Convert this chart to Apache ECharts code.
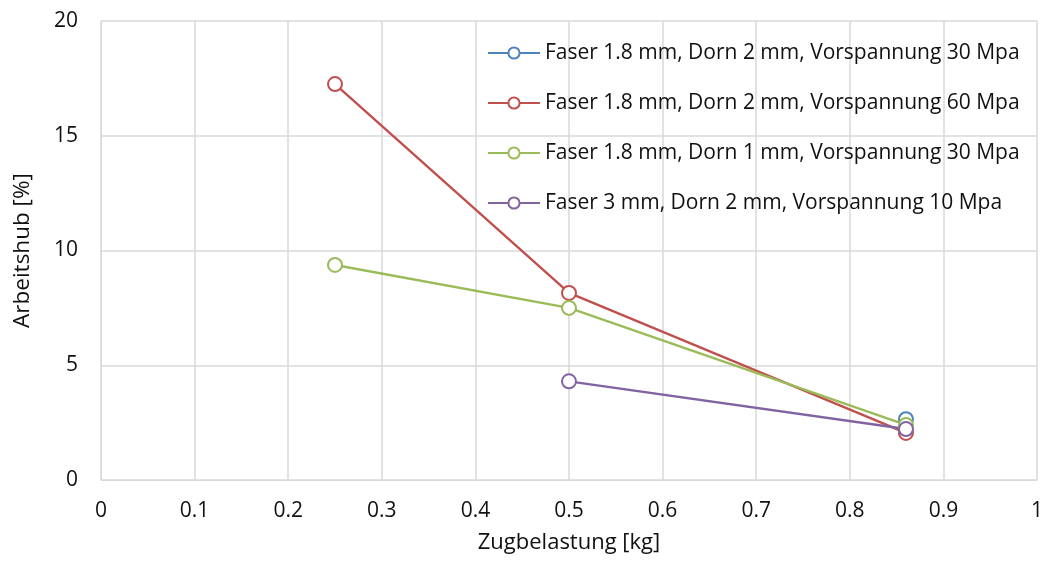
<!DOCTYPE html>
<html>
<head>
<meta charset="utf-8">
<script src="https://cdn.jsdelivr.net/npm/echarts@6/dist/echarts.min.js"></script>
<style>
  html, body { margin: 0; padding: 0; background: #fff; }
  #main { width: 1049px; height: 561px; }
</style>
</head>
<body>
<div id="main"></div>
<script>
// Daten
const seriesNames = [
  'Faser 1.8 mm, Dorn 2 mm, Vorspannung 30 Mpa',
  'Faser 1.8 mm, Dorn 2 mm, Vorspannung 60 Mpa',
  'Faser 1.8 mm, Dorn 1 mm, Vorspannung 30 Mpa',
  'Faser 3 mm, Dorn 2 mm, Vorspannung 10 Mpa'
]
const xBlue = [0.86]
const yBlue = [2.65]
const xRed = [0.25, 0.5, 0.86]
const yRed = [17.25, 8.15, 2.05]
const xGreen = [0.25, 0.5, 0.86]
const yGreen = [9.37, 7.5, 2.4]
const xPurple = [0.5, 0.86]
const yPurple = [4.3, 2.22]
const colors = ['#4F81BD', '#C0504D', '#9BBB59', '#8064A2']

function pairs(xs, ys) {
  return xs.map((x, i) => [x, ys[i]])
}

const chart = echarts.init(document.getElementById('main'))
const font = '"Open Sans", Lato, "Noto Sans", sans-serif'

const dataSets = [pairs(xBlue, yBlue), pairs(xRed, yRed), pairs(xGreen, yGreen), pairs(xPurple, yPurple)]

const option = {
  animation: false,
  textStyle: { fontFamily: font },
  grid: { left: 101, right: 12, top: 21, bottom: 81 },
  legend: {
    orient: 'vertical',
    left: 482,
    top: 37,
    itemWidth: 52,
    itemHeight: 14,
    itemGap: 28,
    textStyle: { fontSize: 21, lineHeight: 22, color: '#111', fontFamily: font },
    data: seriesNames
  },
  xAxis: {
    type: 'value',
    min: 0,
    max: 1,
    interval: 0.1,
    name: 'Zugbelastung [kg]',
    nameLocation: 'middle',
    nameGap: 52,
    nameTextStyle: { fontSize: 22, color: '#111' },
    axisLine: { show: true, lineStyle: { color: '#d9d9d9' } },
    axisTick: { show: false },
    axisLabel: { fontSize: 21, color: '#111', margin: 21 },
    splitLine: { show: true, lineStyle: { color: '#d9d9d9', width: 1.5 } }
  },
  yAxis: {
    type: 'value',
    min: 0,
    max: 20,
    interval: 5,
    name: 'Arbeitshub [%]',
    nameLocation: 'middle',
    nameGap: 67,
    nameTextStyle: { fontSize: 22.5, color: '#111' },
    axisLine: { show: true, lineStyle: { color: '#d9d9d9' } },
    axisTick: { show: false },
    axisLabel: { fontSize: 21, color: '#111', margin: 23 },
    splitLine: { show: true, lineStyle: { color: '#d9d9d9', width: 1.5 } }
  },
  series: seriesNames.map((name, i) => ({
    name: name,
    type: 'line',
    data: dataSets[i],
    symbol: 'emptyCircle',
    symbolSize: 14,
    color: colors[i],
    lineStyle: { width: i === 0 ? 3 : 2.4 },
    itemStyle: { borderWidth: 1.8 }
  }))
}
chart.setOption(option)
</script>
</body>
</html>
